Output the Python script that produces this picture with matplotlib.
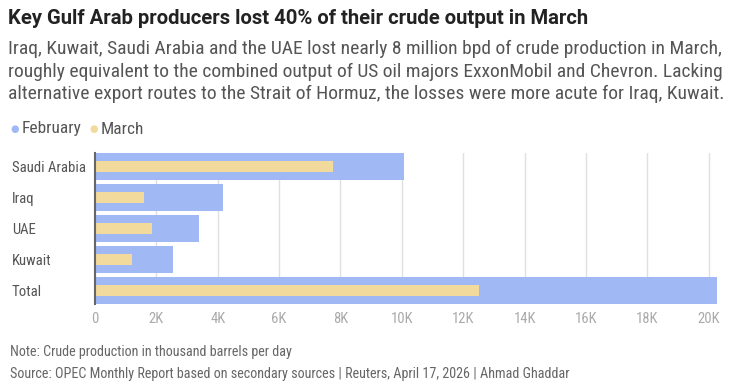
import matplotlib
matplotlib.use("Agg")
import matplotlib.pyplot as plt
from matplotlib import font_manager as fm

categories = ["Saudi Arabia", "Iraq", "UAE", "Kuwait", "Total"]
february = [10070, 4160, 3390, 2550, 20270]
march = [7770, 1600, 1870, 1200, 12520]
tick_values = [0, 2000, 4000, 6000, 8000, 10000, 12000, 14000, 16000, 18000, 20000]
tick_labels = ["0", "2K", "4K", "6K", "8K", "10K", "12K", "14K", "16K", "18K", "20K"]

names = {f.name for f in fm.fontManager.ttflist}
fam = "Roboto"
for cand in ["Roboto Condensed", "Liberation Sans Narrow", "Open Sans Condensed", "Roboto"]:
    if cand in names:
        fam = cand
        break
plt.rcParams["font.family"] = [fam, "DejaVu Sans"]

W, H = 739, 383
fig = plt.figure(figsize=(W / 100, H / 100), dpi=100)
ax = fig.add_axes([95 / W, 1 - 304 / H, (717 - 95) / W, (304 - 153) / H])

blue = "#a0b9f5"
yellow = "#f2da9c"
y = list(range(len(categories)))
ax.barh(y, february, height=0.86, color=blue, zorder=2)
ax.barh(y, march, height=0.34, color=yellow, zorder=3)
ax.set_ylim(4.43, -0.43)
ax.set_xlim(0, max(february))
ax.set_xticks(tick_values)
ax.set_xticklabels(tick_labels)
ax.set_yticks(y)
ax.set_yticklabels(categories)
ax.tick_params(axis="x", length=0, pad=6, labelsize=10.5, labelcolor="#aaaaaa")
ax.tick_params(axis="y", length=0, pad=0, labelsize=10.6, labelcolor="#555555")
for lbl in ax.get_yticklabels():
    lbl.set_horizontalalignment("left")
    lbl.set_x(-(95 - 12) / (717 - 95))
ax.grid(axis="x", color="#e0e0e0", linewidth=1, zorder=0)
for s in ["top", "right", "bottom"]:
    ax.spines[s].set_visible(False)
ax.spines["left"].set_color("#666666")
ax.spines["left"].set_linewidth(1.5)
ax.spines["left"].set_zorder(4)

fig.text(8 / W, 1 - 19 / H, "Key Gulf Arab producers lost 40% of their crude output in March",
         fontsize=14.6, fontweight="bold", color="#222222", va="center", ha="left",
         family=["Roboto", "DejaVu Sans"])
sub = ["Iraq, Kuwait, Saudi Arabia and the UAE lost nearly 8 million bpd of crude production in March,",
       "roughly equivalent to the combined output of US oil majors ExxonMobil and Chevron. Lacking",
       "alternative export routes to the Strait of Hormuz, the losses were more acute for Iraq, Kuwait."]
for i, line in enumerate(sub):
    fig.text(8 / W, 1 - (49 + 22.5 * i) / H, line, fontsize=14, color="#555555", va="center", ha="left")

# legend
fig.text(15 / W, 1 - 129 / H, "●", fontsize=7, color=blue, va="center", ha="center",
         family=["DejaVu Sans"])
fig.text(22 / W, 1 - 129 / H, "February", fontsize=12.5, color="#555555", va="center", ha="left")
fig.text(94 / W, 1 - 129 / H, "●", fontsize=7, color=yellow, va="center", ha="center",
         family=["DejaVu Sans"])
fig.text(101 / W, 1 - 129 / H, "March", fontsize=12.5, color="#555555", va="center", ha="left")

fig.text(10 / W, 1 - 352 / H, "Note: Crude production in thousand barrels per day",
         fontsize=10.2, color="#666666", va="center", ha="left")
fig.text(10 / W, 1 - 374 / H,
         "Source: OPEC Monthly Report based on secondary sources | Reuters, April 17, 2026 | Ahmad Ghaddar",
         fontsize=10.2, color="#666666", va="center", ha="left")

fig.savefig("out.png", dpi=100, facecolor="white")
